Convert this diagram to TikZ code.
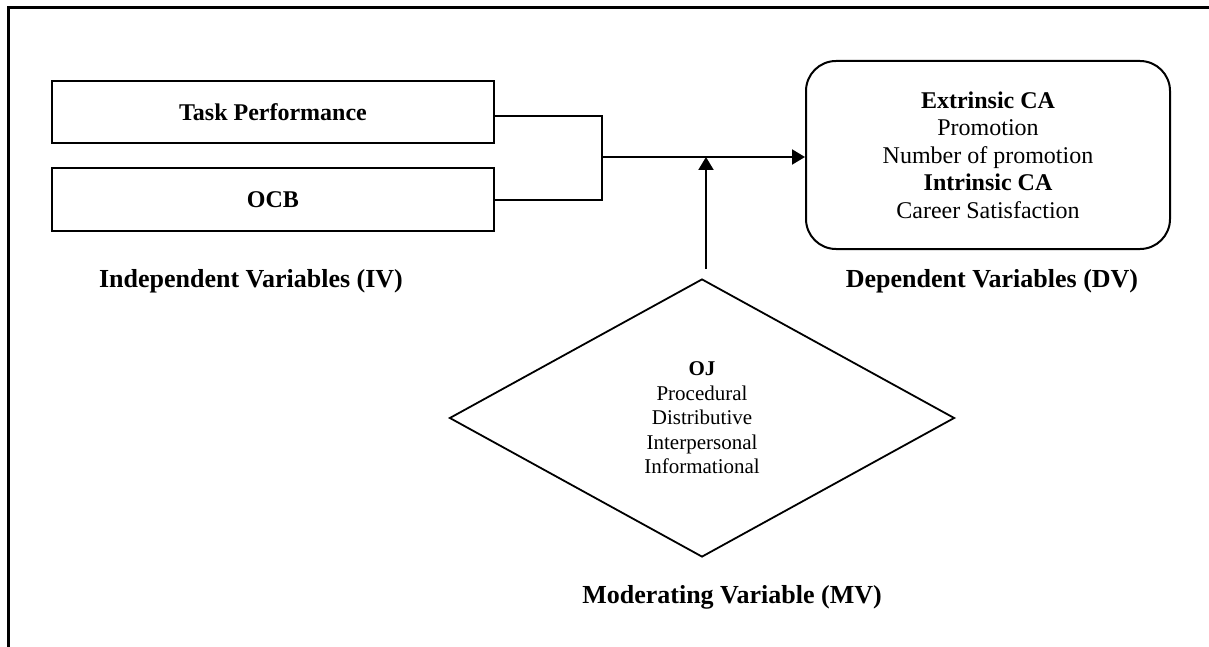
\documentclass[tikz,border=0pt]{standalone}
\usepackage{fontspec}
\setmainfont{Liberation Serif}
\usetikzlibrary{shapes.geometric,arrows.meta,calc}
\begin{document}
\begin{tikzpicture}[x=1pt,y=-1pt,
  ivbox/.style={draw,line width=2pt,minimum width=442pt,minimum height=62pt,inner sep=0pt,font=\fontsize{24}{27.5}\selectfont\bfseries},
  dvbox/.style={draw,line width=2pt,rounded corners=30pt,minimum width=364pt,minimum height=188pt,inner sep=0pt,align=center,font=\fontsize{24}{27.5}\selectfont},
  mvshape/.style={draw,diamond,line width=1.8pt,minimum width=505pt,minimum height=278pt,inner sep=0pt,aspect=1.8,align=center,font=\fontsize{21}{24.5}\selectfont},
  biglabel/.style={anchor=base,inner sep=0pt,font=\fontsize{26}{30}\selectfont\bfseries},
  conn/.style={line width=2pt},
  arr/.style={line width=2pt,-{Triangle[length=13pt,width=15pt]}}]
\useasboundingbox (0,0) rectangle (1209,647);
% frame
\coordinate (fa) at (8,647);
\coordinate (fb) at (8,8);
\coordinate (fc) at (1209,8);
\draw[line width=3pt] (fa) -- (fb) -- (fc);
% boxes
\node[ivbox] (task) at (273,112.5) {Task Performance};
\node[ivbox] (ocb) at (273,199.5) {OCB};
\node[dvbox] (dv) at (988,155) {\textbf{Extrinsic CA}\\Promotion\\Number of promotion\\\textbf{Intrinsic CA}\\Career Satisfaction};
\node[mvshape] (oj) at (702,418) {\textbf{OJ}\\Procedural\\Distributive\\Interpersonal\\Informational};
% labels
\node[biglabel] (ivl) at (251,287) {Independent Variables (IV)};
\node[biglabel] (dvl) at (992,287) {Dependent Variables (DV)};
\node[biglabel] (mvl) at (732,603) {Moderating Variable (MV)};
% connectors
\coordinate (jt) at (602,116);
\coordinate (jb) at (602,199.5);
\coordinate (j) at (602,157);
\coordinate (m) at (706,157);
\draw[conn] (task.east |- jt) -- (jt) -- (jb) -- (ocb.east);
\draw[arr] (j) -- (j -| dv.west);
\draw[arr] ($(oj.north -| m)+(0,-9)$) -- (m);
\end{tikzpicture}
\end{document}
